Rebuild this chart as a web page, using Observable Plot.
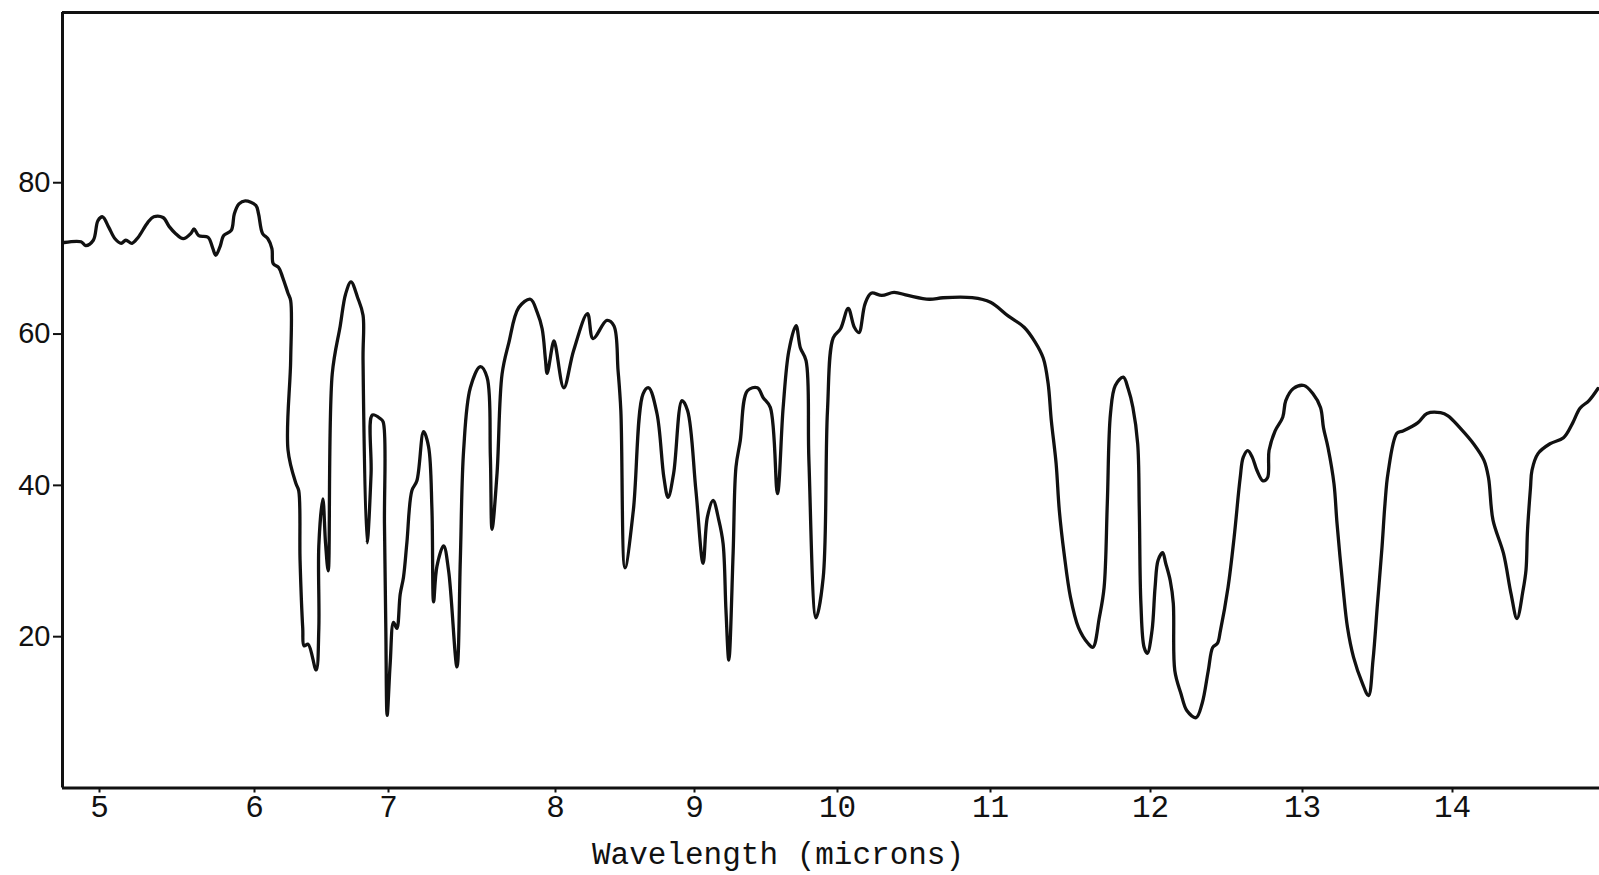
<!DOCTYPE html>
<html>
<head>
<meta charset="utf-8">
<script src="https://cdn.jsdelivr.net/npm/d3@7"></script>
<script src="https://cdn.jsdelivr.net/npm/@observablehq/plot@0.6"></script>
<style>
  html, body { margin: 0; padding: 0; background: #fff; }
  #chart svg { display: block; }
  #xlabel {
    font-family: "Liberation Mono", "DejaVu Sans Mono", monospace;
    font-size: 31px; line-height: 31px; height: 35px;
    color: #111; margin-left: 592px; white-space: pre;
  }
</style>
</head>
<body>
<div id="chart"></div>
<div id="xlabel"></div>
<script>
// ---- Data (wavelength in microns, % transmittance) ----
const wavelength = [
  4.77, 4.88, 4.91, 4.96, 4.99, 5.02, 5.06, 5.10, 5.14, 5.17, 5.21, 5.25, 5.31, 5.35, 5.41, 5.45,
  5.49, 5.54, 5.59, 5.61, 5.64, 5.70, 5.73, 5.75, 5.78, 5.80, 5.85, 5.87, 5.90, 5.94, 6.01, 6.03,
  6.06, 6.10, 6.13, 6.14, 6.18, 6.21, 6.25, 6.27,
  6.27, 6.25, 6.31, 6.33, 6.34, 6.36, 6.37, 6.40, 6.46, 6.48, 6.48, 6.51, 6.53, 6.55, 6.58, 6.64,
  6.68, 6.72, 6.77, 6.81, 6.81, 6.84, 6.87, 6.88, 6.94, 6.96, 6.97, 6.98, 6.99, 7.01, 7.03, 7.05,
  7.07, 7.09, 7.11, 7.14, 7.17, 7.21, 7.24, 7.26, 7.27, 7.29, 7.33, 7.36, 7.41, 7.43, 7.45, 7.49,
  7.55, 7.59, 7.61, 7.62, 7.65, 7.68, 7.72, 7.78, 7.85, 7.89, 7.92, 7.94, 7.95,
  7.99, 8.00, 8.06, 8.13, 8.23, 8.27, 8.37, 8.42, 8.45, 8.47, 8.50, 8.56, 8.63, 8.67, 8.73, 8.78,
  8.81, 8.85, 8.91, 8.95, 9.01, 9.06, 9.09, 9.13, 9.17, 9.20, 9.22, 9.24, 9.27, 9.29, 9.32, 9.37,
  9.44, 9.48, 9.53, 9.58, 9.62, 9.66, 9.71, 9.74, 9.78, 9.80, 9.85, 9.90, 9.93, 9.97, 10.02, 10.07,
  10.11, 10.14, 10.18, 10.22, 10.29, 10.37, 10.46, 10.60, 10.69, 10.88, 11.00, 11.11, 11.21, 11.28,
  11.33, 11.36, 11.38, 11.41, 11.43, 11.46, 11.50, 11.55, 11.61, 11.64, 11.68, 11.71, 11.73, 11.75,
  11.78, 11.83, 11.86, 11.89, 11.92, 11.93, 11.94, 11.96, 11.98, 12.01, 12.03, 12.05, 12.08, 12.10,
  12.13, 12.15, 12.16, 12.20, 12.24, 12.30, 12.34, 12.38, 12.41, 12.44, 12.46, 12.51, 12.55, 12.59,
  12.61, 12.64, 12.67, 12.70, 12.74, 12.77, 12.78, 12.82, 12.87, 12.89, 12.94, 13.01, 13.07, 13.12,
  13.14, 13.17, 13.21, 13.23, 13.27, 13.30, 13.34, 13.40, 13.44, 13.47, 13.50, 13.53, 13.55, 13.57,
  13.63, 13.67, 13.77, 13.83, 13.92, 13.97, 14.05, 14.14, 14.21, 14.24, 14.27, 14.34, 14.39, 14.43,
  14.47, 14.49, 14.50, 14.52, 14.53, 14.57, 14.65, 14.74, 14.80, 14.85, 14.91, 14.97
];
const transmittance = [
  72.1, 72.2, 71.7, 72.4, 75.0, 75.5, 74.1, 72.6, 72.0, 72.4, 72.0, 72.8, 74.7, 75.5, 75.4, 74.2,
  73.3, 72.6, 73.3, 73.9, 73.0, 72.8, 71.4, 70.4, 71.7, 73.0, 73.7, 75.9, 77.2, 77.6, 77.0, 75.9,
  73.3, 72.6, 71.3, 69.3, 68.8, 67.5, 65.4, 64.4,
  56.6, 44.7, 40.2, 39.3, 30.1, 21.1, 18.8, 19.0, 15.6, 21.1, 32.0, 38.2, 32.4, 28.7, 54.7, 61.1,
  65.3, 66.9, 64.8, 62.5, 56.6, 32.4, 41.6, 49.3, 48.8, 48.4, 34.8, 21.1, 9.6, 16.4, 21.9, 21.1,
  25.6, 27.9, 32.4, 39.3, 40.6, 47.1, 45.1, 36.9, 24.6, 29.3, 32.0, 28.7, 16.0, 30.1, 44.7, 52.9,
  55.7, 54.3, 43.8, 34.2, 41.6, 54.7, 58.8, 63.5, 64.6, 62.9, 60.7, 56.6, 54.8,
  59.1, 58.5, 52.9, 57.8, 62.7, 59.4, 61.8, 61.1, 55.2, 49.9, 29.1, 36.7, 52.1, 52.9, 49.5, 41.0,
  38.4, 41.6, 51.2, 49.9, 39.3, 29.7, 35.8, 38.0, 35.4, 32.3, 23.5, 16.9, 31.0, 42.4, 45.9, 52.5,
  52.9, 51.6, 50.3, 38.9, 50.3, 57.8, 61.1, 58.2, 56.5, 43.3, 22.5, 27.8, 49.9, 59.5, 60.7, 63.4,
  60.9, 60.2, 64.0, 65.4, 65.1, 65.5, 65.1, 64.6, 64.8, 64.8, 64.2, 62.4, 60.9, 58.9,
  56.8, 53.5, 48.6, 42.9, 36.7, 31.0, 25.2, 21.2, 19.1, 18.6, 22.5, 26.5, 37.6, 49.5,
  53.2, 54.3, 52.8, 50.3, 45.5, 36.7, 24.4, 18.6, 17.8, 20.8, 26.5, 30.1, 31.1, 29.7,
  27.4, 24.4, 15.5, 12.5, 10.2, 9.3, 11.2, 15.5, 18.6, 19.1, 20.8, 26.5, 33.1, 41.0,
  43.7, 44.6, 43.7, 42.0, 40.6, 41.0, 44.6, 47.2, 49.0, 51.2, 52.8, 53.2, 52.1, 50.3,
  47.6, 45.0, 40.2, 35.0, 26.5, 21.2, 17.3, 13.8, 12.2, 16.9, 24.4, 31.8, 37.6, 41.6,
  46.9, 47.2, 48.3, 49.5, 49.6, 49.2, 47.6, 45.5, 43.3, 41.0, 35.4, 31.0, 25.7, 22.4,
  26.1, 28.8, 34.0, 39.7, 42.0, 44.2, 45.5, 46.3, 48.2, 50.2, 51.2, 52.8
];
const xTicks = [5, 6, 7, 8, 9, 10, 11, 12, 13, 14];
const yTicks = [20, 40, 60, 80];
const xLabel = "Wavelength (microns)";

// Hand-ruled wavelength axis of the original chart: uneven spacing between the
// printed micron marks, reproduced with a piecewise-linear scale.
const xScaleDomain = [4.76, 5, 6, 7, 8, 9, 10, 11, 12, 13, 14, 14.98];
const xScaleRange  = [62, 99, 254, 388, 555, 694, 837, 990, 1150, 1302, 1452, 1599];
const yScaleDomain = [0, 102.5];

const data = wavelength.map((w, i) => ({ w, t: transmittance[i] }));
const ink = "#111";

const chart = Plot.plot({
  width: 1599,
  height: 840,
  marginLeft: 62,
  marginRight: 0,
  marginTop: 12,
  marginBottom: 52.5,
  style: { background: "#fff", color: ink, overflow: "visible" },
  x: { type: "linear", domain: xScaleDomain, range: xScaleRange },
  y: { type: "linear", domain: yScaleDomain, range: [787.5, 12] },
  marks: [
    Plot.ruleX([xScaleDomain[0]], { stroke: ink, strokeWidth: 3 }),
    Plot.ruleY([yScaleDomain[0]], { stroke: ink, strokeWidth: 3 }),
    Plot.ruleY([yScaleDomain[1]], { stroke: ink, strokeWidth: 3 }),
    Plot.axisY({
      ticks: yTicks, tickSize: 9, tickPadding: 3, strokeWidth: 2,
      fontSize: 29, fontFamily: "Liberation Sans, Arial, sans-serif",
      label: null, fill: ink, stroke: ink
    }),
    Plot.axisX({
      ticks: xTicks, tickSize: 5, tickPadding: 2, strokeWidth: 2,
      fontSize: 31, fontFamily: "Liberation Mono, monospace",
      label: null, fill: ink, stroke: ink
    }),
    Plot.line(data, {
      x: "w", y: "t", stroke: ink, strokeWidth: 3.3, curve: "catmull-rom",
      strokeLinejoin: "round", strokeLinecap: "round"
    })
  ]
});

document.getElementById("chart").appendChild(chart);
document.getElementById("xlabel").textContent = xLabel;
</script>
</body>
</html>
